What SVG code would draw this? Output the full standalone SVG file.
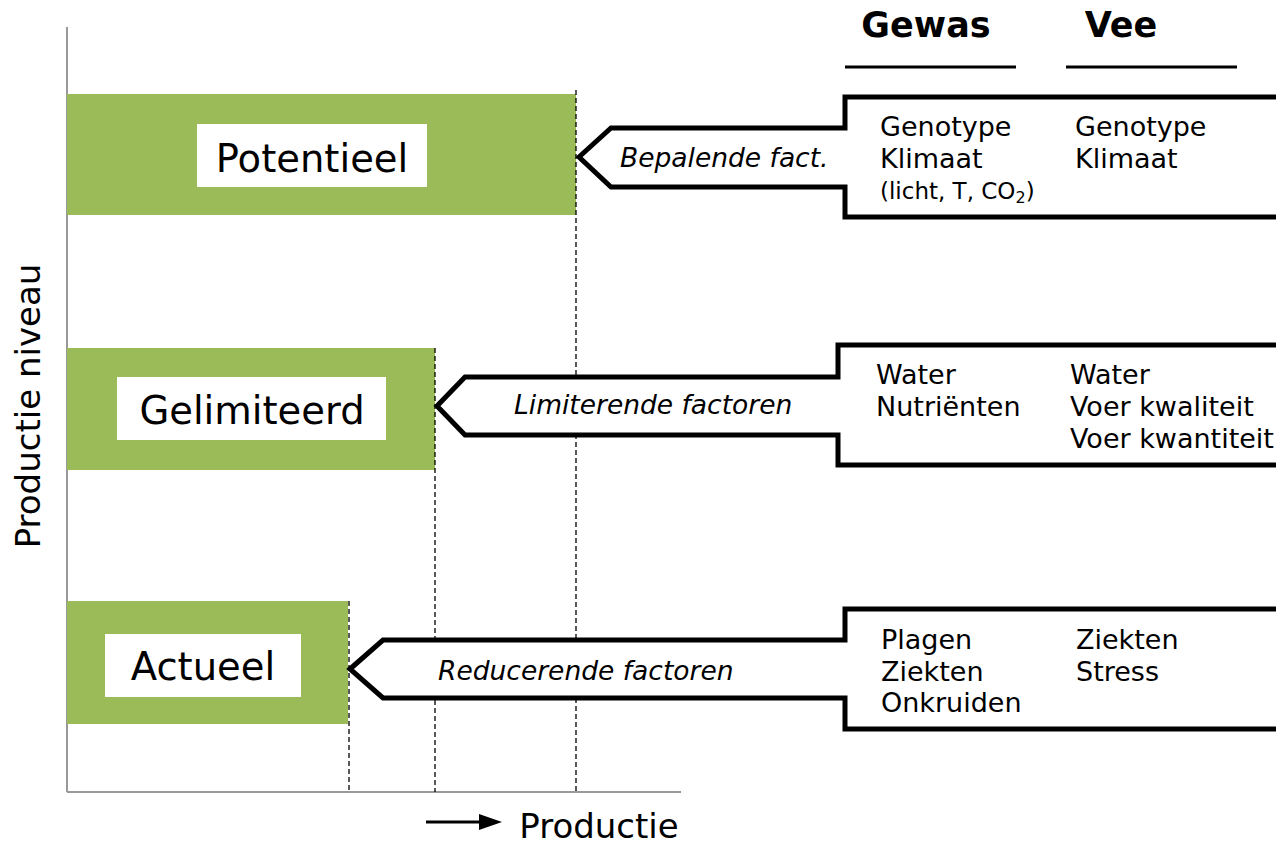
<svg xmlns="http://www.w3.org/2000/svg" width="1276" height="846" viewBox="0 0 1276 846">
<defs>
<style>
text{font-family:"DejaVu Sans","Liberation Sans",sans-serif;fill:#000}
.bar{fill:#9BBB59}
.lbl{fill:#fff}
.big{font-size:38.5px;text-anchor:middle}
.it{font-style:italic;font-size:26.5px}
.f{font-size:27px}
.sm{font-size:23px}
.hd{font-size:35px;font-weight:bold}
.arrow{fill:#fff;stroke:#000;stroke-width:5;stroke-linejoin:miter}
.dash{stroke:#000;stroke-width:1.3;stroke-dasharray:5,3;fill:none}
.axis{stroke:#999;stroke-width:2;fill:none}
</style>
</defs>
<rect width="1276" height="846" fill="#fff"/>
<g id="axes">
<line class="axis" x1="67" y1="27" x2="67" y2="792"/>
<line class="axis" x1="67" y1="792" x2="681" y2="792"/>
<text x="40" y="406" font-size="34" text-anchor="middle" transform="rotate(-90 40 406)">Productie niveau</text>
<text x="599" y="838" font-size="34" text-anchor="middle">Productie</text>
<line x1="426" y1="822" x2="482" y2="822" stroke="#000" stroke-width="3"/>
<path d="M479,814 L502,822 L479,830 Z" fill="#000"/>
</g>
<g id="potentieel">
<rect class="bar" x="67" y="94" width="509" height="121"/>
<rect class="lbl" x="197" y="124" width="230" height="63"/>
<text class="big" x="312" y="172">Potentieel</text>
</g>
<g id="gelimiteerd">
<rect class="bar" x="67" y="348" width="368" height="122"/>
<rect class="lbl" x="117" y="377" width="269" height="63"/>
<text class="big" x="252" y="424">Gelimiteerd</text>
</g>
<g id="actueel">
<rect class="bar" x="67" y="601" width="281" height="123"/>
<rect class="lbl" x="105" y="634" width="196" height="63"/>
<text class="big" x="203" y="680">Actueel</text>
</g>
<g id="connectors">
<line class="dash" x1="576" y1="90" x2="576" y2="792"/>
<line class="dash" x1="435" y1="348" x2="435" y2="792"/>
<line class="dash" x1="349" y1="601" x2="349" y2="792"/>
</g>
<g id="headers">
<text class="hd" x="926" y="37" text-anchor="middle">Gewas</text>
<text class="hd" x="1121" y="37" text-anchor="middle">Vee</text>
<line x1="845" y1="67" x2="1016" y2="67" stroke="#000" stroke-width="3"/>
<line x1="1066" y1="67" x2="1237" y2="67" stroke="#000" stroke-width="3"/>
</g>
<g id="bepalend">
<path class="arrow" d="M579,157 L611,128 L845,128 L845,97 L1280,97 L1280,217 L845,217 L845,187 L611,187 Z"/>
<text class="it" x="620" y="167">Bepalende fact.</text>
<text class="f" x="880" y="136">Genotype</text>
<text class="f" x="880" y="168">Klimaat</text>
<text class="sm" x="880" y="199">(licht, T, CO<tspan font-size="16" dy="4">2</tspan><tspan dy="-4">)</tspan></text>
<text class="f" x="1075" y="136">Genotype</text>
<text class="f" x="1075" y="168">Klimaat</text>
</g>
<g id="limiterend">
<path class="arrow" d="M437,406 L465,377 L838,377 L838,345 L1280,345 L1280,465 L838,465 L838,435 L465,435 Z"/>
<text class="it" x="514" y="414">Limiterende factoren</text>
<text class="f" x="876" y="384">Water</text>
<text class="f" x="876" y="416">Nutriënten</text>
<text class="f" x="1070" y="384">Water</text>
<text class="f" x="1070" y="416">Voer kwaliteit</text>
<text class="f" x="1070" y="448">Voer kwantiteit</text>
</g>
<g id="reducerend">
<path class="arrow" d="M350,669 L383,640 L845,640 L845,609 L1280,609 L1280,729 L845,729 L845,698 L383,698 Z"/>
<text class="it" x="438" y="680">Reducerende factoren</text>
<text class="f" x="881" y="649">Plagen</text>
<text class="f" x="881" y="681">Ziekten</text>
<text class="f" x="881" y="712">Onkruiden</text>
<text class="f" x="1076" y="649">Ziekten</text>
<text class="f" x="1076" y="681">Stress</text>
</g>
</svg>
